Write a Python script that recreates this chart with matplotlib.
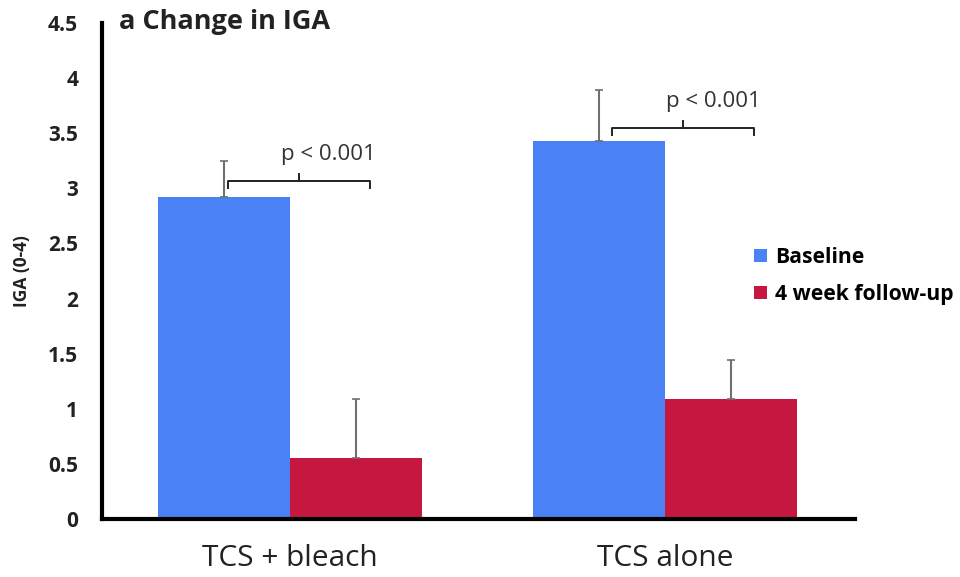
import numpy as np
import matplotlib.pyplot as plt

plt.rcParams['font.family'] = ['Open Sans', 'DejaVu Sans']

groups = ['TCS + bleach', 'TCS alone']
series = ['Baseline', '4 week follow-up']
baseline = [2.92, 3.43]
baseline_err = [0.33, 0.46]
followup = [0.55, 1.09]
followup_err = [0.54, 0.35]
p_labels = ['p < 0.001', 'p < 0.001']
bracket_y = [3.07, 3.55]
bracket_x0 = [-0.165, 0.859]
bracket_x1 = [0.213, 1.237]
yticks = [0, 0.5, 1, 1.5, 2, 2.5, 3, 3.5, 4, 4.5]

blue = '#4a82f5'
red = '#c5173f'

fig = plt.figure(figsize=(9.6, 5.77), dpi=100)
ax = fig.add_axes([0.106, 0.1005, 0.785, 0.8595])

x = np.arange(len(groups))
w = 0.352
ax.bar(x - w/2, baseline, w, color=blue, label=series[0])
ax.bar(x + w/2, followup, w, color=red, label=series[1])
ax.errorbar(x - w/2, baseline, yerr=[np.zeros(2), baseline_err], fmt='none',
            ecolor='#707070', elinewidth=1.5, capsize=3, capthick=1.2)
ax.errorbar(x + w/2, followup, yerr=[np.zeros(2), followup_err], fmt='none',
            ecolor='#707070', elinewidth=1.5, capsize=3, capthick=1.2)

# significance brackets
for i in range(len(groups)):
    x0, x1, y = bracket_x0[i], bracket_x1[i], bracket_y[i]
    ax.plot([x0, x0, x1, x1], [y - 0.07, y, y, y - 0.07], color='#222222', lw=1.4)
    xm = (x0 + x1) / 2
    ax.plot([xm, xm], [y, y + 0.06], color='#222222', lw=1.4)
    ax.text(xm + 0.08, y + 0.24, p_labels[i], ha='center', va='center',
            fontsize=16, color='#333333')

ax.set_xlim(-0.501, 1.507)
ax.set_ylim(0, 4.5)
ax.set_yticks(yticks)
ax.set_yticklabels([f'{v:g}' for v in yticks], fontsize=15, fontweight='bold',
                   color='#222222')
ax.set_xticks(x)
ax.set_xticklabels(groups, fontsize=21.5, color='#222222')
ax.tick_params(axis='x', length=0, pad=18)
ax.tick_params(axis='y', length=0, pad=17)
for s in ['top', 'right']:
    ax.spines[s].set_visible(False)
for s in ['left', 'bottom']:
    ax.spines[s].set_linewidth(3)
ax.set_ylabel('IGA (0-4)', fontsize=12.5, fontweight='bold', labelpad=12,
              color='#222222')

fig.text(0.124, 0.962, 'a Change in IGA', fontsize=19.5, fontweight='bold',
         ha='left', va='center', color='#222222')

fig.legend(loc='center left', bbox_to_anchor=(0.766, 0.522), frameon=False,
           prop={'weight': 'bold', 'size': 15.2}, handlelength=0.6,
           handleheight=0.6, handletextpad=0.4, labelspacing=0.75)

fig.savefig('out.png', dpi=100)
